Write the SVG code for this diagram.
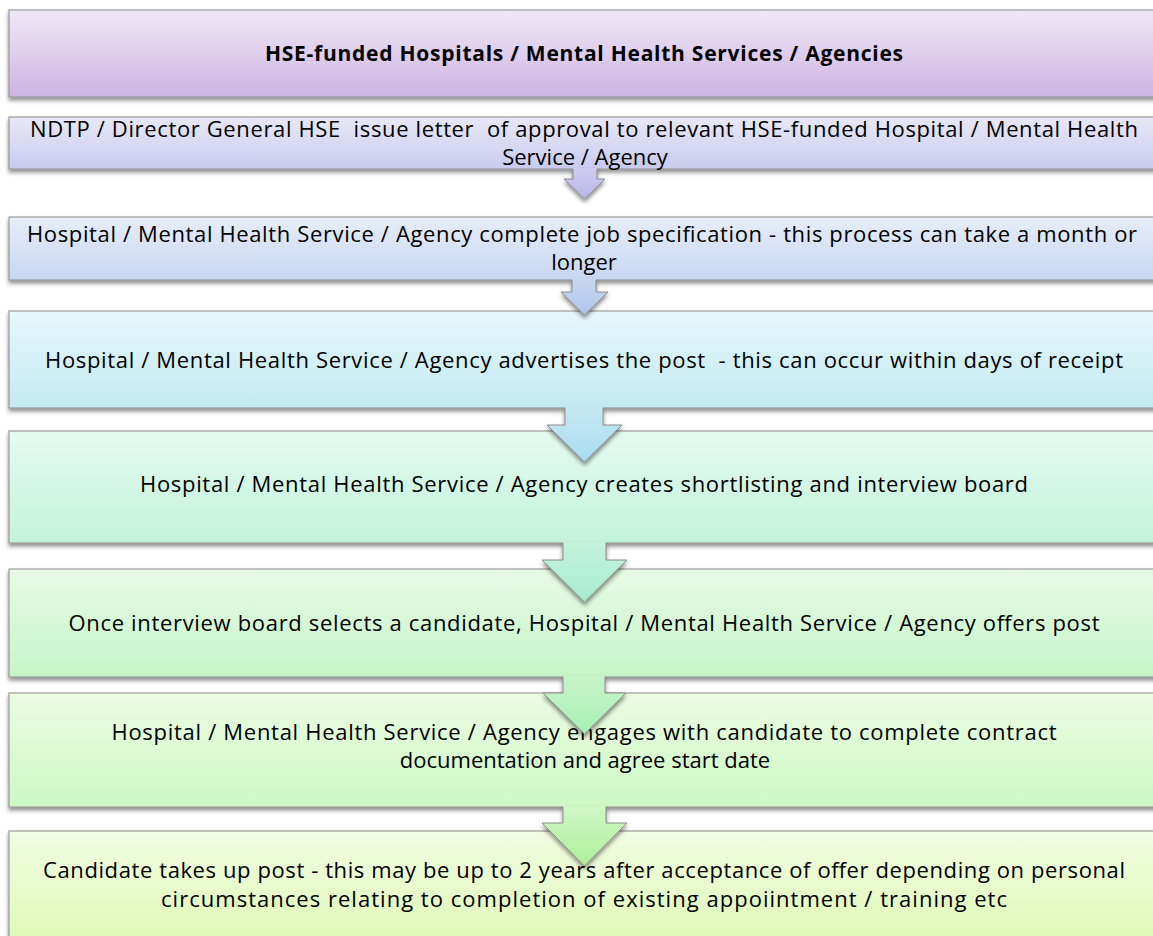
<svg xmlns="http://www.w3.org/2000/svg" width="1153" height="936" viewBox="0 0 1153 936">
  <style>
    .box { stroke: #8c8c8c; stroke-width: 1; filter: url(#shadow); }
    .txt { font-family: "Open Sans", Lato, "Liberation Sans", sans-serif; font-size: 22px; fill: #000; text-anchor: middle; white-space: pre; }
    .title { font-weight: bold; font-size: 21px; }
    .arrow-fill { stroke: none; }
    .arrow-edge { fill: none; stroke: #8c8c8c; stroke-width: 1; stroke-linejoin: miter; }
  </style>
  <defs>
    <filter id="shadow" x="-5%" y="-20%" width="110%" height="150%">
      <feDropShadow dx="0" dy="3" stdDeviation="2" flood-color="#000" flood-opacity="0.45"/>
    </filter>
    <linearGradient id="g1" x1="0" y1="0" x2="0" y2="1"><stop offset="0" stop-color="#efe8f6"/><stop offset="1" stop-color="#cdb4e2"/></linearGradient>
    <linearGradient id="g2" x1="0" y1="0" x2="0" y2="1"><stop offset="0" stop-color="#e9e8f7"/><stop offset="1" stop-color="#c9cbee"/></linearGradient>
    <linearGradient id="g3" x1="0" y1="0" x2="0" y2="1"><stop offset="0" stop-color="#e7edf9"/><stop offset="1" stop-color="#c6d7f1"/></linearGradient>
    <linearGradient id="g4" x1="0" y1="0" x2="0" y2="1"><stop offset="0" stop-color="#e6f8fb"/><stop offset="1" stop-color="#c4e9f2"/></linearGradient>
    <linearGradient id="g5" x1="0" y1="0" x2="0" y2="1"><stop offset="0" stop-color="#e5fbf1"/><stop offset="1" stop-color="#c3f2db"/></linearGradient>
    <linearGradient id="g6" x1="0" y1="0" x2="0" y2="1"><stop offset="0" stop-color="#e7fbe5"/><stop offset="1" stop-color="#c6f4c8"/></linearGradient>
    <linearGradient id="g7" x1="0" y1="0" x2="0" y2="1"><stop offset="0" stop-color="#ebfce2"/><stop offset="1" stop-color="#cdf7c5"/></linearGradient>
    <linearGradient id="g8" x1="0" y1="0" x2="0" y2="1"><stop offset="0" stop-color="#f2fde3"/><stop offset="1" stop-color="#dcf9b2"/></linearGradient>
    <linearGradient id="a1" x1="0" y1="0" x2="0" y2="1"><stop offset="0" stop-color="#cfcdf0"/><stop offset="1" stop-color="#b8b6e6"/></linearGradient>
    <linearGradient id="a2" x1="0" y1="0" x2="0" y2="1"><stop offset="0" stop-color="#c9d8f1"/><stop offset="1" stop-color="#aec6ea"/></linearGradient>
    <linearGradient id="a3" x1="0" y1="0" x2="0" y2="1"><stop offset="0" stop-color="#c6e9f3"/><stop offset="1" stop-color="#a9dcef"/></linearGradient>
    <linearGradient id="a4" x1="0" y1="0" x2="0" y2="1"><stop offset="0" stop-color="#c4f2dd"/><stop offset="1" stop-color="#a6ecd0"/></linearGradient>
    <linearGradient id="a5" x1="0" y1="0" x2="0" y2="1"><stop offset="0" stop-color="#c8f4ca"/><stop offset="1" stop-color="#a8efb4"/></linearGradient>
    <linearGradient id="a6" x1="0" y1="0" x2="0" y2="1"><stop offset="0" stop-color="#cff7c6"/><stop offset="1" stop-color="#aef09a"/></linearGradient>
  </defs>

  <rect width="1153" height="936" fill="#ffffff"/>

  <!-- process steps -->
  <g id="step-header">
    <rect class="box" x="9" y="10" width="1150" height="87" fill="url(#g1)"/>
    <text class="txt title" x="584" y="61" textLength="638">HSE-funded Hospitals / Mental Health Services / Agencies</text>
  </g>
  <g id="step-approval">
    <rect class="box" x="9" y="117" width="1150" height="52" fill="url(#g2)"/>
    <text class="txt" x="584" y="137" textLength="1108">NDTP / Director General HSE  issue letter  of approval to relevant HSE-funded Hospital / Mental Health</text>
    <text class="txt" x="585" y="165">Service / Agency</text>
  </g>
  <g id="step-jobspec">
    <rect class="box" x="9" y="217" width="1150" height="63" fill="url(#g3)"/>
    <text class="txt" x="582" y="242" textLength="1110">Hospital / Mental Health Service / Agency complete job specification - this process can take a month or</text>
    <text class="txt" x="584" y="270">longer</text>
  </g>
  <g id="step-advertise">
    <rect class="box" x="9" y="311" width="1150" height="97" fill="url(#g4)"/>
    <text class="txt" x="584" y="368" textLength="1078">Hospital / Mental Health Service / Agency advertises the post  - this can occur within days of receipt</text>
  </g>
  <g id="step-shortlist">
    <rect class="box" x="9" y="431" width="1150" height="112" fill="url(#g5)"/>
    <text class="txt" x="584" y="492" textLength="888">Hospital / Mental Health Service / Agency creates shortlisting and interview board</text>
  </g>
  <g id="step-offer">
    <rect class="box" x="9" y="569" width="1150" height="108" fill="url(#g6)"/>
    <text class="txt" x="584" y="631" textLength="1031">Once interview board selects a candidate, Hospital / Mental Health Service / Agency offers post</text>
  </g>
  <g id="step-contract">
    <rect class="box" x="9" y="693" width="1150" height="114" fill="url(#g7)"/>
    <text class="txt" x="584" y="740" textLength="945">Hospital / Mental Health Service / Agency engages with candidate to complete contract</text>
    <text class="txt" x="585" y="768">documentation and agree start date</text>
  </g>
  <g id="step-start">
    <rect class="box" x="9" y="831" width="1150" height="120" fill="url(#g8)"/>
    <text class="txt" x="584" y="878" textLength="1082">Candidate takes up post - this may be up to 2 years after acceptance of offer depending on personal</text>
    <text class="txt" x="584" y="907" textLength="846">circumstances relating to completion of existing appoiintment / training etc</text>
  </g>

  <!-- block arrows between steps -->
  <g id="connectors" filter="url(#shadow)">
    <g>
      <polygon class="arrow-fill" fill="url(#a1)" points="573,168 597,168 597,179 605,179 584.5,199 564,179 573,179"/>
      <polyline class="arrow-edge" points="573,169 573,179 564,179 584.5,199 605,179 597,179 597,169"/>
    </g>
    <g>
      <polygon class="arrow-fill" fill="url(#a2)" points="572,279 596,279 596,292 608,292 584.5,315 561,292 572,292"/>
      <polyline class="arrow-edge" points="572,280 572,292 561,292 584.5,315 608,292 596,292 596,280"/>
    </g>
    <g>
      <polygon class="arrow-fill" fill="url(#a3)" points="565,407 603,407 603,425 622,425 584.5,462 547,425 565,425"/>
      <polyline class="arrow-edge" points="565,408 565,425 547,425 584.5,462 622,425 603,425 603,408"/>
    </g>
    <g>
      <polygon class="arrow-fill" fill="url(#a4)" points="563,542 606,542 606,560 627,560 584.5,602 542,560 563,560"/>
      <polyline class="arrow-edge" points="563,543 563,560 542,560 584.5,602 627,560 606,560 606,543"/>
    </g>
    <g>
      <polygon class="arrow-fill" fill="url(#a5)" points="563,676 605,676 605,693 626,693 584.5,734 543,693 563,693"/>
      <polyline class="arrow-edge" points="563,677 563,693 543,693 584.5,734 626,693 605,693 605,677"/>
    </g>
    <g>
      <polygon class="arrow-fill" fill="url(#a6)" points="563,806 606,806 606,823 627,823 584.5,866 542,823 563,823"/>
      <polyline class="arrow-edge" points="563,807 563,823 542,823 584.5,866 627,823 606,823 606,807"/>
    </g>
  </g>
</svg>
